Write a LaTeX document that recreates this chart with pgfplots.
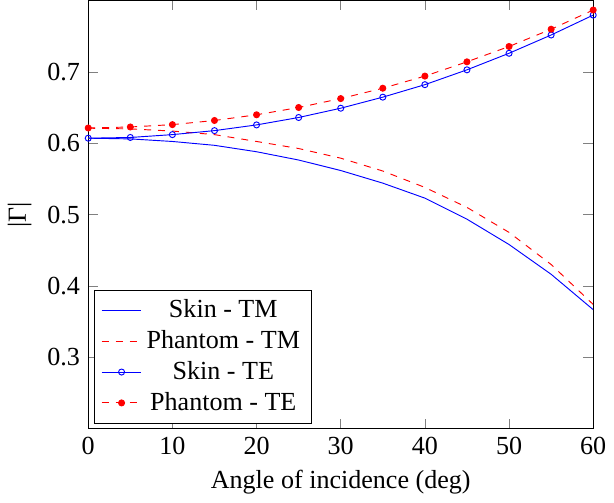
\documentclass[border=0pt]{standalone}
\usepackage{fontspec}
\setmainfont{Liberation Serif}
\usepackage{pgfplots}
\pgfplotsset{compat=1.18}
\begin{document}
\begin{tikzpicture}
  \begin{axis}[
      scale only axis,
      width=217pt, height=184pt,
      font=\fontsize{11.2}{13.4}\selectfont,
      xmin=0, xmax=60,
      ymin=0.2, ymax=0.8,
      ytick={0.3,0.4,0.5,0.6,0.7},
      xlabel={Angle of incidence (deg)},
      ylabel={|Γ|},
      /pgf/number format/assume math mode=true,
      yticklabel style={/pgf/number format/fixed, /pgf/number format/precision=1},
      legend cell align=center,
      legend style={at={(0.011,0.012)}, anchor=south west},
      mark size=1.3pt
    ]
    \addplot[blue, no marks] coordinates {
      (0,0.607) (5,0.606) (10,0.6024) (15,0.597) (20,0.588) (25,0.5764) (30,0.5617)
      (35,0.544) (40,0.523) (45,0.4935) (50,0.458) (55,0.4163) (60,0.3667)
    };
    \addplot[red, dashed, no marks] coordinates {
      (0,0.621) (5,0.620) (10,0.617) (15,0.612) (20,0.6024) (25,0.5925) (30,0.579)
      (35,0.561) (40,0.538) (45,0.510) (50,0.475) (55,0.430) (60,0.374)
    };
    \addplot[blue, mark=o] coordinates {
      (0,0.607) (5,0.608) (10,0.612) (15,0.6176) (20,0.6256) (25,0.636) (30,0.649)
      (35,0.6645) (40,0.682) (45,0.7028) (50,0.726) (55,0.7516) (60,0.7795)
    };
    \addplot[red, dashed, mark=*, mark options={solid}] coordinates {
      (0,0.6213) (5,0.6227) (10,0.626) (15,0.6318) (20,0.6398) (25,0.650) (30,0.6625)
      (35,0.677) (40,0.694) (45,0.714) (50,0.7355) (55,0.7597) (60,0.7866)
    };
    \legend{Skin - TM, Phantom - TM, Skin - TE, Phantom - TE}
  \end{axis}
\end{tikzpicture}
\end{document}
